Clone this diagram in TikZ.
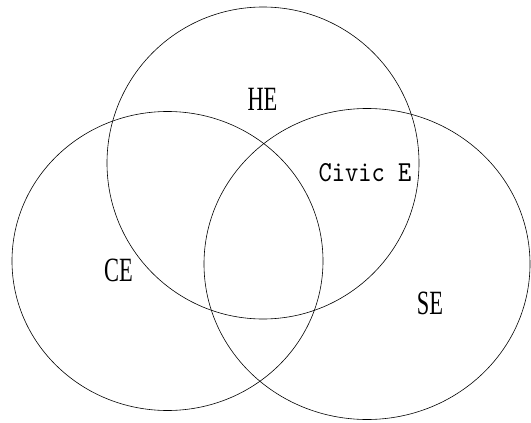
\documentclass[tikz,border=0pt]{standalone}
\usepackage{fontspec}
\newfontfamily\lblfont[FakeStretch=0.66]{Liberation Serif}
\newfontfamily\civicfont[FakeStretch=0.87]{lmmono10-regular.otf}
\tikzset{
  set/.style={draw=black,line width=0.6pt},
  lab/.style={font=\lblfont\fontsize{34}{36}\selectfont,inner sep=0pt},
  sublab/.style={font=\civicfont\fontsize{29}{32}\selectfont,inner sep=0pt},
}

\begin{document}
\begin{tikzpicture}[x=1pt,y=-1pt]
\useasboundingbox (0,0) rectangle (531,423);
% the three sets
\draw[set] (263,163) ellipse [x radius=156pt,y radius=156pt];
\draw[set] (167.5,261) ellipse [x radius=155.5pt,y radius=149.5pt];
\draw[set] (367,264) ellipse [x radius=163pt,y radius=155.5pt];
% labels
\node[lab] (he) at (262.5,99) {HE};
\node[lab] (ce) at (118.5,270) {CE};
\node[lab] (se) at (430,303) {SE};
\node[sublab] (civ) at (365,173) {Civic E};
\end{tikzpicture}
\end{document}
